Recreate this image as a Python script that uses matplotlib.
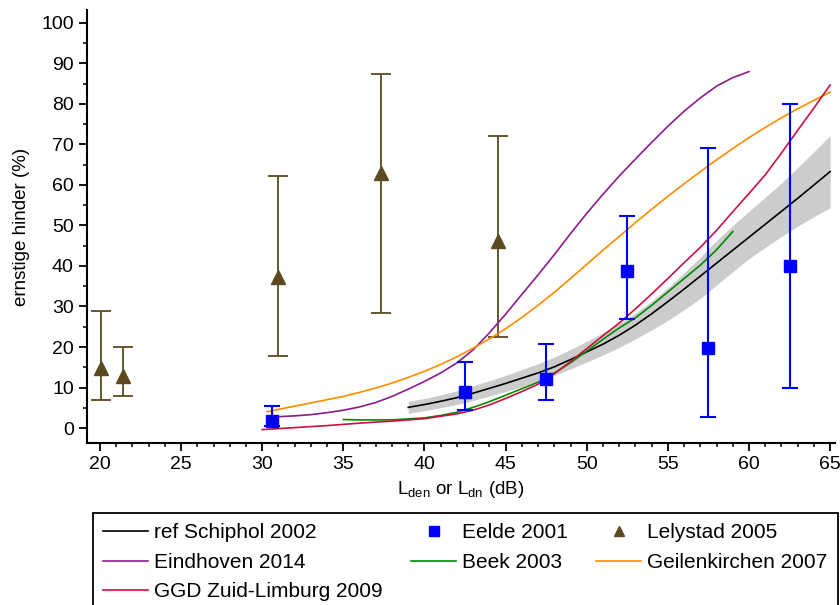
import numpy as np
import matplotlib
matplotlib.use("Agg")
import matplotlib.pyplot as plt
from matplotlib.lines import Line2D
from matplotlib.ticker import MultipleLocator

plt.rcParams['font.family'] = ['Liberation Sans', 'DejaVu Sans']
plt.rcParams['mathtext.default'] = 'regular'

# ref Schiphol 2002 curve with confidence band
schiphol_x = [39, 40, 41, 42, 43, 44, 45, 46, 47, 48, 49, 50, 51, 52, 53,
              54, 55, 56, 57, 58, 59, 60, 61, 62, 63, 64, 65]
schiphol_y = [5.1, 5.8, 6.6, 7.5, 8.6, 9.8, 11.0, 12.3, 13.6, 15.1, 16.9, 18.8, 20.7, 22.9, 25.4,
              28.2, 31.2, 34.3, 37.5, 40.7, 43.9, 47.1, 50.3, 53.5, 56.7, 60.0, 63.3]
schiphol_lo = [3.6, 4.3, 5.0, 5.8, 6.8, 7.9, 9.0, 10.2, 11.5, 13.0, 14.6, 16.3, 18.0, 19.9, 22.0,
               24.2, 26.6, 29.2, 32.0, 35.3, 38.6, 41.8, 44.6, 47.3, 49.8, 52.2, 54.4]
schiphol_hi = [6.6, 7.3, 8.2, 9.2, 10.4, 11.7, 13.0, 14.4, 15.9, 17.5, 19.4, 21.4, 23.5, 25.8, 28.4,
               31.3, 34.6, 38.3, 42.2, 46.3, 50.0, 53.5, 57.0, 60.5, 64.3, 68.2, 72.2]

# Eindhoven 2014
eind_x = [30.5, 31, 32, 33, 34, 35, 36, 37, 38, 39, 40, 41, 42, 43, 44, 45,
          46, 47, 48, 49, 50, 51, 52, 53, 54, 55, 56, 57, 58, 59, 60]
eind_y = [2.7, 2.8, 3.0, 3.3, 3.8, 4.4, 5.2, 6.3, 7.8, 9.6, 11.5, 13.6, 16.1, 19.3, 23.5, 28.1,
          33.0, 37.8, 42.8, 48.0, 53.0, 57.7, 62.2, 66.4, 70.5, 74.5, 78.2, 81.5, 84.4, 86.5, 88.0]

# Beek 2003
beek_x = [35, 36, 38, 40, 41, 42, 43, 44, 45, 46, 47, 48, 49, 50, 51, 52, 53, 54, 55, 56, 57, 58, 59]
beek_y = [2.1, 2.0, 2.0, 2.5, 3.1, 3.9, 5.1, 6.5, 8.1, 9.7, 11.3, 13.6, 16.1, 19.0, 21.9, 24.7,
          27.2, 30.3, 33.6, 36.9, 40.2, 44.0, 48.5]

# Geilenkirchen 2007
geil_x = [30.3, 31, 32, 33, 34, 35, 36, 37, 38, 39, 40, 41, 42, 43, 44, 45, 46, 47,
          48, 49, 50, 51, 52, 53, 54, 55, 56, 57, 58, 59, 60, 61, 62, 63, 64, 65]
geil_y = [4.0, 4.6, 5.4, 6.2, 7.0, 7.8, 8.8, 9.9, 11.1, 12.5, 14.0, 15.7, 17.6, 19.7, 22.0, 24.5, 27.3, 30.3,
          33.5, 36.9, 40.4, 43.9, 47.3, 50.7, 54.0, 57.2, 60.3, 63.3, 66.2, 69.0, 71.7, 74.2, 76.6, 78.8, 80.9, 82.9]

# GGD Zuid-Limburg 2009
ggd_x = [30, 32, 34, 36, 38, 40, 42, 43, 44, 45, 46, 47, 48, 49, 50, 51, 52, 53, 54, 55,
         56, 57, 58, 59, 60, 61, 62, 63, 64, 65]
ggd_y = [-0.4, 0.1, 0.6, 1.2, 1.7, 2.3, 3.5, 4.4, 5.7, 7.3, 9.0, 10.8, 13.4, 16.4, 19.6, 22.8, 25.9, 29.4, 33.1, 36.9,
         40.8, 44.6, 48.8, 53.4, 57.9, 62.5, 67.9, 73.5, 79.0, 84.7]

# Eelde 2001 points with intervals
eelde_x = [30.6, 42.5, 47.5, 52.5, 57.5, 62.5]
eelde_y = [1.8, 8.8, 12.2, 38.8, 19.8, 40.0]
eelde_lo = [0.5, 4.4, 6.9, 26.8, 2.8, 10.0]
eelde_hi = [5.5, 16.4, 20.7, 52.3, 69.1, 80.0]

# Lelystad 2005 points with intervals
lely_x = [20.05, 21.4, 30.95, 37.3, 44.5]
lely_y = [14.8, 12.9, 37.3, 63.0, 46.2]
lely_lo = [6.8, 7.8, 17.9, 28.5, 22.4]
lely_hi = [28.9, 19.9, 62.3, 87.5, 72.0]

c_black = 'black'
c_purple = '#8e1b8e'
c_green = '#008a00'
c_orange = '#ff8c00'
c_red = '#cc1040'
c_blue = '#0000ff'
c_brown = '#5b4a1f'

fig = plt.figure(figsize=(8.4, 6.05), dpi=100)
ax = fig.add_axes([87 / 840, 1 - 443 / 605, (835 - 87) / 840, (443 - 10) / 605])

lw = 1.2
ax.fill_between(schiphol_x, schiphol_lo, schiphol_hi, color='#cccccc', lw=0, zorder=1)
ax.plot(schiphol_x, schiphol_y, color=c_black, lw=lw, zorder=3)
ax.plot(eind_x, eind_y, color=c_purple, lw=lw, zorder=3)
ax.plot(beek_x, beek_y, color=c_green, lw=lw, zorder=3)
ax.plot(geil_x, geil_y, color=c_orange, lw=lw, zorder=3)
ax.plot(ggd_x, ggd_y, color=c_red, lw=lw, zorder=3)

ey = np.array(eelde_y)
ax.errorbar(eelde_x, eelde_y, yerr=[ey - np.array(eelde_lo), np.array(eelde_hi) - ey],
            fmt='s', color=c_blue, ms=8, elinewidth=1.5, capsize=6, capthick=1.5, zorder=4)
ly = np.array(lely_y)
ax.errorbar(lely_x, lely_y, yerr=[ly - np.array(lely_lo), np.array(lely_hi) - ly],
            fmt='^', color=c_brown, ms=9.5, elinewidth=1.3, capsize=7, capthick=1.3, zorder=2)

ax.set_xlim(19.2, 65.3)
ax.set_ylim(-3.7, 103.2)
ax.xaxis.set_major_locator(MultipleLocator(5))
ax.xaxis.set_minor_locator(MultipleLocator(1))
ax.yaxis.set_major_locator(MultipleLocator(10))
ax.yaxis.set_minor_locator(MultipleLocator(5))
for s in ['top', 'right']:
    ax.spines[s].set_visible(False)
for s in ['left', 'bottom']:
    ax.spines[s].set_linewidth(1.5)
ax.tick_params(which='major', direction='out', length=5.5, width=1.3, labelsize=14, pad=4)
ax.tick_params(which='minor', direction='out', length=3, width=1.1)

ax.set_xlabel('L$_{den}$ or L$_{dn}$ (dB)', fontsize=13.5, labelpad=4)
ax.set_ylabel('ernstige hinder (%)', fontsize=13.5, labelpad=8)

handles = [
    Line2D([], [], color=c_black, lw=lw),
    Line2D([], [], color=c_purple, lw=lw),
    Line2D([], [], color=c_red, lw=lw),
    Line2D([], [], color=c_blue, marker='s', ls='none', ms=7),
    Line2D([], [], color=c_green, lw=lw),
    Line2D([], [], color=c_brown, marker='^', ls='none', ms=7),
    Line2D([], [], color=c_orange, lw=lw),
]
labels = ['ref Schiphol 2002', 'Eindhoven 2014', 'GGD Zuid-Limburg 2009',
          'Eelde 2001', 'Beek 2003', 'Lelystad 2005', 'Geilenkirchen 2007']
leg = fig.legend(handles, labels, ncol=3, loc='upper left', bbox_to_anchor=(93 / 840, 1 - 513 / 605),
                 fontsize=15, frameon=True, fancybox=False, edgecolor='black', framealpha=1,
                 handlelength=2.15, handletextpad=0.3, columnspacing=1.35, labelspacing=0.5,
                 borderpad=0.5, borderaxespad=0)
leg.get_frame().set_linewidth(1.3)

fig.savefig('out.png', dpi=100)
